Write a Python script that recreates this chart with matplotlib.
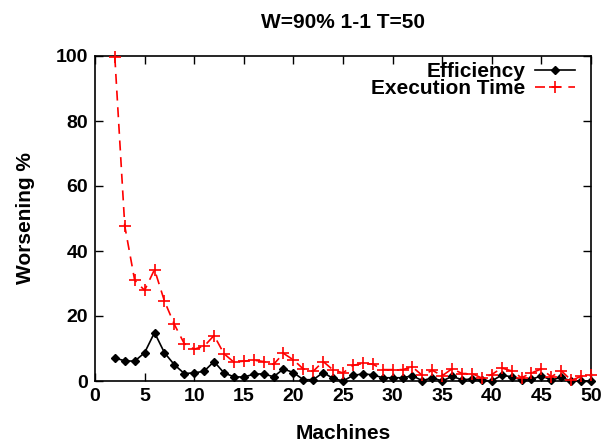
import matplotlib
matplotlib.use("Agg")
import matplotlib.pyplot as plt

plt.rcParams['font.family'] = ['Liberation Sans', 'DejaVu Sans']
plt.rcParams['font.weight'] = 'bold'

machines = list(range(2, 51))
efficiency = [7.1, 6.2, 6.1, 8.7, 14.9, 8.7, 5.0, 2.3, 2.5, 3.0,
              6.0, 2.5, 1.3, 1.2, 2.1, 2.2, 1.3, 3.7, 2.6, 0.4,
              0.4, 2.6, 0.8, 0.0, 1.7, 2.2, 1.9, 1.0, 1.0, 1.0,
              1.6, 0.1, 1.0, 0.0, 1.4, 0.4, 0.6, 0.2, 0.0, 1.8,
              1.3, 0.3, 0.5, 1.6, 0.3, 1.1, 0.0, 0.0, 0.0]
exec_time = [99.6, 47.7, 31.0, 27.9, 34.3, 24.6, 17.4, 11.5, 9.8, 10.7,
             14.0, 8.4, 5.8, 6.1, 6.4, 6.0, 5.1, 8.5, 6.5, 3.7,
             3.0, 6.0, 3.4, 2.5, 4.8, 5.4, 5.2, 3.5, 3.5, 3.5,
             4.3, 1.7, 3.3, 1.6, 3.8, 2.3, 2.3, 0.9, 2.0, 4.0,
             3.1, 1.0, 2.5, 3.7, 1.3, 3.2, 0.2, 1.4, 1.7]
xticks = list(range(0, 51, 5))
yticks = list(range(0, 101, 20))

fig = plt.figure(figsize=(6.02, 4.44), dpi=100)
ax = fig.add_axes([95 / 602, 1 - 381 / 444, 496 / 602, 325 / 444])

ax.plot(machines, efficiency, color='black', lw=1.2, marker='D',
        markersize=4.5, label='Efficiency', clip_on=False, zorder=3)
ax.plot(machines, exec_time, color='red', lw=1.2, ls=(0, (6, 4)),
        marker='+', markersize=9, markeredgewidth=1.2,
        label='Execution Time', clip_on=False, zorder=3)

ax.set_xlim(0, 50)
ax.set_ylim(0, 100)
ax.set_xticks(xticks)
ax.set_yticks(yticks)
ax.tick_params(direction='in', length=6, width=1, top=True, right=True,
               labelsize=14, pad=5)
for lab in ax.get_xticklabels() + ax.get_yticklabels():
    lab.set_fontweight('bold')
for s in ax.spines.values():
    s.set_linewidth(1.2)

ax.set_xlabel('Machines', fontsize=15, fontweight='bold', labelpad=14)
ax.set_ylabel('Worsening %', fontsize=15, fontweight='bold', labelpad=15)
ax.set_title('W=90% 1-1 T=50', fontsize=15, fontweight='bold', pad=20)

leg = ax.legend(loc='upper right', bbox_to_anchor=(0.9845, 1.007),
                markerfirst=False, frameon=False, labelspacing=-0.09,
                handlelength=1.9, handletextpad=0.47, borderaxespad=0,
                prop={'weight': 'bold', 'size': 15})

fig.savefig('out.png', dpi=100)
